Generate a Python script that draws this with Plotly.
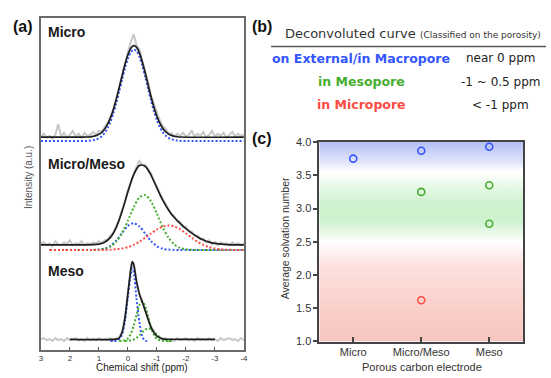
import plotly.graph_objects as go

W, H = 551, 378

# ---------------- Panel (a): NMR spectra (offset stacked) ----------------
GRAY_PPM = [3.0, 2.9, 2.8, 2.7, 2.6, 2.5, 2.4, 2.3, 2.2, 2.1, 2.0, 1.9, 1.8, 1.7, 1.6, 1.5, 1.4, 1.3, 1.2, 1.1,
            1.0, 0.9, 0.8, 0.7, 0.6, 0.5, 0.4, 0.3, 0.2, 0.1, 0.0, -0.1, -0.2, -0.3, -0.4, -0.5, -0.6, -0.7,
            -0.8, -0.9, -1.0, -1.1, -1.2, -1.3, -1.4, -1.5, -1.6, -1.7, -1.8, -1.9, -2.0, -2.1, -2.2, -2.3,
            -2.4, -2.5, -2.6, -2.7, -2.8, -2.9, -3.0, -3.1, -3.2, -3.3, -3.4, -3.5, -3.6, -3.7, -3.8, -3.9, -4.0]
MICRO_RAW = [220, 223, 219, 221, 218, 222, 233, 220, 224, 219,
             222, 226, 220, 223, 219, 224, 221, 222, 225, 222,
             226, 225, 230, 234, 241, 249, 260, 272, 286, 297,
             307, 318, 326, 314, 310, 298, 287, 276, 262, 254,
             244, 237, 231, 228, 223, 224, 220, 223, 221, 224,
             220, 222, 226, 220, 223, 221, 225, 219, 222, 226,
             220, 223, 221, 224, 219, 222, 225, 220, 223, 221, 222]
MICRO_MESO_RAW = [109, 111, 108, 110, 107, 112, 109, 108, 111, 109,
                  113, 108, 110, 109, 112, 108, 110, 109, 111, 110,
                  112, 110, 113, 114, 118, 121, 128, 134, 145, 153,
                  165, 173, 183, 189, 195, 191, 191, 186, 182, 174,
                  169, 161, 156, 150, 146, 140, 138, 133, 132, 127,
                  127, 122, 122, 118, 118, 114, 115, 111, 113, 109,
                  111, 108, 111, 109, 110, 108, 111, 109, 110, 108, 110]
MESO_RAW = [11, 12, 10, 11, 9, 12, 10, 11, 9, 12,
            10, 11, 12, 10, 11, 9, 12, 10, 11, 10,
            12, 10, 11, 10, 12, 10, 12, 13, 19, 34,
            59, 84, 90, 71, 58, 50, 41, 32, 24, 19,
            14, 13, 11, 12, 10, 11, 9, 12, 10, 11,
            12, 10, 11, 9, 12, 10, 11, 10, 12, 10,
            11, 9, 12, 10, 11, 12, 10, 11, 9, 12, 10]

MICRO_FIT_PPM = [3.0, 1.5, 1.4, 1.3, 1.2, 1.1, 1.0, 0.9, 0.8, 0.7, 0.6, 0.5, 0.4, 0.3, 0.2, 0.1, 0.0, -0.1,
                 -0.2, -0.3, -0.4, -0.5, -0.6, -0.7, -0.8, -0.9, -1.0, -1.1, -1.2, -1.3, -1.4, -1.5, -1.6,
                 -1.7, -1.8, -4.0]
MICRO_FIT = [219.5, 219.6, 219.7, 219.9, 220.4, 221.1, 222.5, 224.6, 228.0, 232.9, 239.5, 248.2, 258.7,
             270.6, 283.0, 294.8, 304.7, 311.3, 314.0, 312.2, 306.3, 297.0, 285.5, 273.1, 261.0, 250.2,
             241.1, 234.0, 228.8, 225.2, 222.8, 221.4, 220.5, 220.0, 219.7, 219.5]
MICRO_EXT = [215.5, 215.6, 215.7, 215.9, 216.4, 217.1, 218.5, 220.6, 224.0, 228.9, 235.5, 244.2, 254.7,
             266.6, 279.0, 290.8, 300.7, 307.3, 310.0, 308.2, 302.3, 293.0, 281.5, 269.1, 257.0, 246.2,
             237.1, 230.0, 224.8, 221.2, 218.8, 217.4, 216.5, 216.0, 215.7, 215.5]

MM_FIT_PPM = [3.0, 1.2, 1.0, 0.8, 0.6, 0.4, 0.2, 0.0, -0.2, -0.4, -0.6, -0.8, -1.0, -1.2, -1.4, -1.6, -1.8,
              -2.0, -2.2, -2.4, -2.6, -2.8, -3.0, -3.2, -3.4, -4.0]
MM_FIT = [108.3, 108.5, 109.1, 111.0, 116.0, 126.4, 143.0, 163.1, 180.9, 190.4, 189.3, 180.1, 167.1, 154.5,
          144.4, 136.5, 130.4, 125.0, 120.4, 116.4, 113.3, 111.1, 109.8, 109.1, 108.6, 108.3]
MM_COMP_PPM = [2.7, 1.2, 1.0, 0.8, 0.6, 0.4, 0.2, 0.0, -0.2, -0.4, -0.6, -0.8, -1.0, -1.2, -1.4, -1.6, -1.8,
               -2.0, -2.2, -2.4, -2.6, -2.8, -3.0, -3.2, -3.4, -4.0]
MM_EXT = [103, 103.1, 103.4, 104.5, 107.3, 112.8, 120.6, 127.9, 130.7, 127.3, 119.8, 112.2, 106.9, 104.3,
          103.4, 103.1, 103, 103, 103, 103, 103, 103, 103, 103, 103, 103]
MM_MESO = [103, 103.1, 103.4, 104.3, 106.6, 111.7, 120.7, 133.4, 147.2, 157.4, 159.7, 153.1, 140.4, 126.6,
           115.7, 108.7, 105.2, 103.7, 103.2, 103, 103, 103, 103, 103, 103, 103]
MM_MICRO = [103, 103, 103.05, 103.1, 103.3, 103.8, 104.6, 106.0, 108.3, 111.6, 115.7, 120.1, 124.3, 127.2,
            128.3, 127.2, 124.3, 120.1, 115.7, 111.6, 108.3, 106.0, 104.6, 103.8, 103.3, 103]

MESO_FIT_PPM = [2.0, 0.4, 0.3, 0.2, 0.1, 0.0, -0.1, -0.15, -0.2, -0.3, -0.4, -0.5, -0.6, -0.7, -0.8, -0.9,
                -1.0, -1.1, -1.2, -1.4, -3.0]
MESO_FIT = [10.7, 10.9, 12.0, 18.0, 33.0, 58.0, 83.0, 91.0, 88.0, 70.0, 57.0, 49.0, 40.0, 31.0, 23.0, 17.5,
            14.0, 12.3, 11.2, 10.8, 10.7]
MESO_EXT_PPM = [0.6, 0.5, 0.4, 0.3, 0.2, 0.1, 0.0, -0.1, -0.15, -0.2, -0.3, -0.4, -0.5, -0.6, -0.7]
MESO_EXT = [9, 9, 9.3, 10.7, 16, 30, 55, 78, 84, 80, 52, 28, 13, 9.5, 9]
MESO_M1_PPM = [0.3, 0.2, 0.1, 0.0, -0.1, -0.2, -0.3, -0.4, -0.5, -0.6, -0.7, -0.8, -0.9, -1.0, -1.2, -1.4, -1.55]
MESO_M1 = [9, 9.2, 9.8, 11.7, 16.3, 24.8, 36.2, 46.4, 50.0, 44.7, 33.9, 22.8, 15.1, 11.1, 9.1, 9, 9]
MESO_M2_PPM = [0.1, 0.0, -0.1, -0.2, -0.3, -0.4, -0.5, -0.6, -0.7, -0.8, -0.9, -1.0, -1.2, -1.4, -1.55]
MESO_M2 = [9, 9.2, 9.7, 10.6, 12.4, 15.0, 18.1, 20.8, 22.0, 21.2, 18.7, 15.6, 10.9, 9.3, 9]

PPM_TICKS = [3, 2, 1, 0, -1, -2, -3, -4]
PPM_TICKTEXT = ["3", "2", "1", "0", "-1", "-2", "-3", "-4"]
SPECTRA_LABELS = ["Micro", "Micro/Meso", "Meso"]

# ---------------- Panel (c): average solvation number ----------------
ELECTRODES = ["Micro", "Micro/Meso", "Meso"]
EXT_X = ["Micro", "Micro/Meso", "Meso"]
EXT_Y = [3.75, 3.87, 3.93]
MESO_X = ["Micro/Meso", "Meso", "Meso"]
MESO_Y = [3.25, 3.35, 2.77]
MICRO_X = ["Micro/Meso"]
MICRO_Y = [1.62]
SOLV_TICKS = [1.0, 1.5, 2.0, 2.5, 3.0, 3.5, 4.0]

# ---------------- Panel (b): table ----------------
ROW_LABELS = ["on External/in Macropore", "in Mesopore", "in Micropore"]
ROW_SHIFTS = ["near 0 ppm", "-1 ~ 0.5 ppm", "&lt; -1 ppm"]

BLUE = "#3356ff"
GREEN = "#46ad2f"
RED = "#ff4b44"
ROW_COLORS = [BLUE, GREEN, RED]
FONT = "Liberation Sans, Arial"


def px(x):
    return x / W


def py(y):
    return 1 - y / H


fig = go.Figure()

gray = dict(color="#c8c8c8", width=2)
for raw in (MICRO_RAW, MICRO_MESO_RAW, MESO_RAW):
    fig.add_trace(go.Scatter(x=GRAY_PPM, y=raw, mode="lines", line=gray, xaxis="x", yaxis="y"))


def dotted(xs, ys, color):
    fig.add_trace(go.Scatter(x=xs, y=ys, mode="lines", xaxis="x", yaxis="y",
                             line=dict(color=color, width=2, dash="2px,2px", shape="spline", smoothing=0.8)))


def fit(xs, ys):
    fig.add_trace(go.Scatter(x=xs, y=ys, mode="lines", xaxis="x", yaxis="y",
                             line=dict(color="#1e1e1e", width=1.7, shape="spline", smoothing=0.8)))


dotted(MICRO_FIT_PPM, MICRO_EXT, BLUE)
fit(MICRO_FIT_PPM, MICRO_FIT)

dotted(MM_COMP_PPM, MM_EXT, BLUE)
dotted(MM_COMP_PPM, MM_MESO, GREEN)
dotted(MM_COMP_PPM, MM_MICRO, RED)
fit(MM_FIT_PPM, MM_FIT)

dotted(MESO_EXT_PPM, MESO_EXT, BLUE)
dotted(MESO_M1_PPM, MESO_M1, GREEN)
dotted(MESO_M2_PPM, MESO_M2, GREEN)
fit(MESO_FIT_PPM, MESO_FIT)

fig.add_trace(go.Scatter(
    x=[-0.5, 2.5, 2.5, -0.5, -0.5], y=[1, 1, 4, 4, 1], mode="lines", fill="toself",
    line=dict(width=0), xaxis="x2", yaxis="y2", hoverinfo="skip",
    fillgradient=dict(type="vertical", start=1, stop=4, colorscale=[
        [0.0, "rgb(248,196,190)"], [0.2, "rgb(250,208,203)"], [0.4, "rgb(253,226,223)"],
        [0.48, "rgb(255,246,246)"], [0.515, "rgb(255,255,255)"], [0.55, "rgb(238,250,238)"],
        [0.62, "rgb(206,241,206)"], [0.7, "rgb(206,241,206)"], [0.77, "rgb(226,248,226)"],
        [0.835, "rgb(250,254,250)"], [0.86, "rgb(255,255,255)"], [0.9, "rgb(226,230,251)"],
        [1.0, "rgb(180,191,246)"]])))


def idx(cats):
    return [ELECTRODES.index(c) for c in cats]


for xs, ys, col in ((EXT_X, EXT_Y, BLUE), (MESO_X, MESO_Y, GREEN), (MICRO_X, MICRO_Y, RED)):
    fig.add_trace(go.Scatter(x=idx(xs), y=ys, mode="markers", xaxis="x2", yaxis="y2",
                             marker=dict(symbol="circle-open", size=7, color=col, line=dict(width=1.6))))

ann = []


def text(t, x, y, size, color="#222", family=FONT, xanchor="center", angle=0):
    ann.append(dict(text=t, x=px(x), y=py(y), xref="paper", yref="paper", showarrow=False,
                    xanchor=xanchor, yanchor="middle", textangle=angle, borderpad=0,
                    font=dict(family=family, size=size, color=color)))


for t, x, y in (("(a)", 21.5, 21), ("(b)", 263, 21.5), ("(c)", 263, 136.5)):
    text("<b>%s</b>" % t, x, y, 16, "#111")
for t, y in zip(SPECTRA_LABELS, (27, 163, 274)):
    text("<b>%s</b>" % t, 45, y, 14, "#1a1a1a", xanchor="left")
text("Intensity (a.u.)", 27, 177, 10, "#555", angle=-90)
text("Chemical shift (ppm)", 142, 373.5, 10, "#222")
text("Average solvation number", 287, 240, 10.5, "#333", angle=-90)
text("Porous carbon electrode", 425, 373, 11, "#333")
text("Deconvoluted curve <span style='font-size:9px'>(Classified on the porosity)</span>",
     285, 28, 13, "#333", family="DejaVu Sans", xanchor="left")
for lab, sh, col, y in zip(ROW_LABELS, ROW_SHIFTS, ROW_COLORS, (54, 78, 102)):
    text("<b>%s</b>" % lab, 363, y, 12.5, col, family="DejaVu Sans")
    text(sh, 504, y, 12, "#222", family="DejaVu Sans")

fig.update_layout(
    width=W, height=H, margin=dict(l=0, r=0, t=0, b=0), showlegend=False,
    paper_bgcolor="white", plot_bgcolor="white",
    xaxis=dict(domain=[px(39.3), px(244.6)], range=[3, -4], tickvals=PPM_TICKS, ticktext=PPM_TICKTEXT,
               ticks="inside", ticklen=3, tickcolor="#555", showline=True, linecolor="#6a6a6a",
               linewidth=1.5, mirror=True, showgrid=False, zeroline=False, ticklabelstandoff=0,
               tickfont=dict(family=FONT, size=8, color="#333"), anchor="y"),
    yaxis=dict(domain=[py(355), py(12.3)], range=[0, 342.7], showticklabels=False, ticks="",
               showline=True, linecolor="#6a6a6a", linewidth=1.5, mirror=True, showgrid=False,
               zeroline=False, anchor="x"),
    xaxis2=dict(domain=[px(320.7), px(527)], range=[-0.5, 2.5], tickvals=[0, 1, 2], ticktext=ELECTRODES,
                ticks="inside", ticklen=5, tickwidth=1.5, tickcolor="#444", showline=True,
                linecolor="#444", linewidth=1.5, mirror=True, showgrid=False, zeroline=False,
                tickfont=dict(family=FONT, size=11, color="#333"), anchor="y2"),
    yaxis2=dict(domain=[py(346.5), py(140.5)], range=[1, 4], tickvals=SOLV_TICKS, tickformat=".1f",
                ticks="outside", ticklen=4, tickwidth=1.5, tickcolor="#444", showline=True,
                linecolor="#444", linewidth=1.5, mirror=True, showgrid=False, zeroline=False,
                tickfont=dict(family=FONT, size=11, color="#333"), anchor="x2"),
    annotations=ann,
    shapes=[dict(type="line", xref="paper", yref="paper", x0=px(272), x1=px(550), y0=py(41.7),
                 y1=py(41.7), line=dict(color="#555", width=1.5))],
)

fig.write_html("out.html")
